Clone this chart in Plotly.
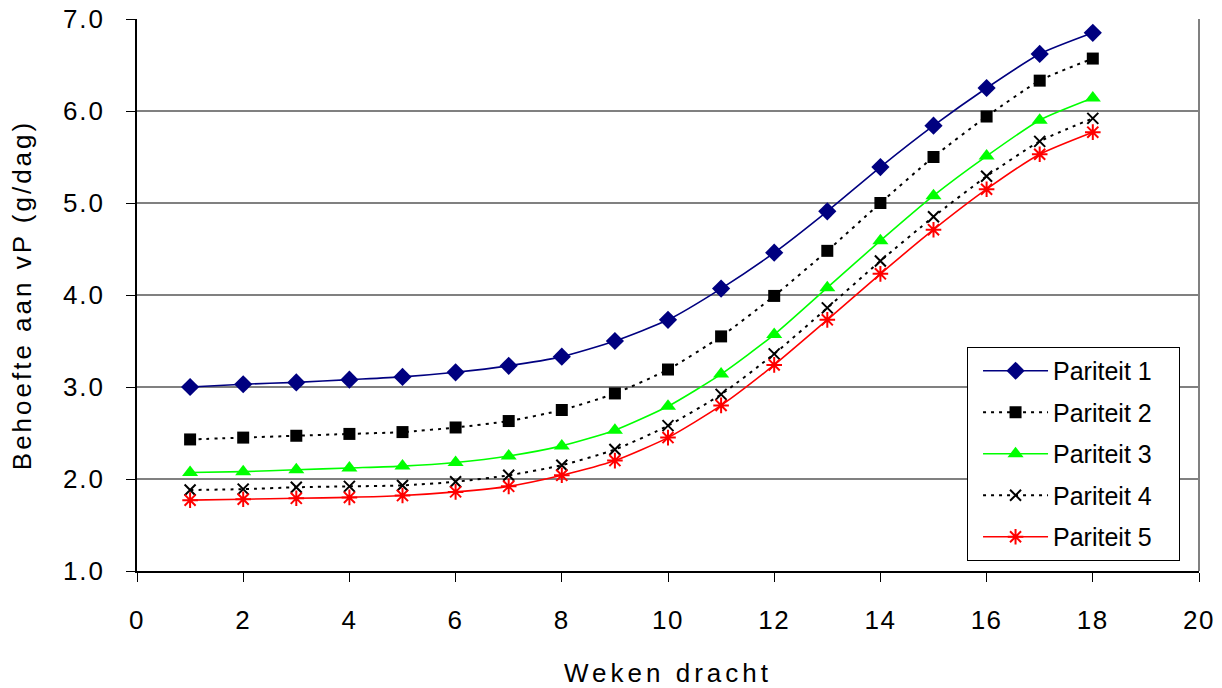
import plotly.graph_objects as go

weeks = list(range(1, 19))
p1 = [3.00, 3.03, 3.05, 3.08, 3.11, 3.16, 3.23, 3.33, 3.50, 3.73, 4.07, 4.46, 4.91, 5.39, 5.84, 6.25, 6.62, 6.85]
p2 = [2.43, 2.45, 2.47, 2.49, 2.51, 2.56, 2.63, 2.75, 2.93, 3.19, 3.55, 3.99, 4.48, 5.00, 5.50, 5.94, 6.33, 6.57]
p3 = [2.07, 2.08, 2.10, 2.12, 2.14, 2.18, 2.25, 2.36, 2.53, 2.79, 3.14, 3.57, 4.08, 4.59, 5.08, 5.51, 5.90, 6.14]
p4 = [1.88, 1.89, 1.91, 1.92, 1.93, 1.97, 2.04, 2.15, 2.32, 2.58, 2.92, 3.36, 3.86, 4.37, 4.85, 5.29, 5.67, 5.92]
p5 = [1.77, 1.78, 1.79, 1.80, 1.82, 1.86, 1.92, 2.04, 2.20, 2.45, 2.80, 3.24, 3.73, 4.23, 4.71, 5.15, 5.53, 5.77]
names = ["Pariteit 1", "Pariteit 2", "Pariteit 3", "Pariteit 4", "Pariteit 5"]
y_ticks = [1.0, 2.0, 3.0, 4.0, 5.0, 6.0, 7.0]
x_ticks = list(range(0, 21, 2))

styles = [
    dict(color="#000080", dash="solid", symbol="diamond", size=14, mline=0),
    dict(color="#000000", dash="3px,5px", symbol="square", size=12, mline=0),
    dict(color="#00FF00", dash="solid", symbol="triangle-up", size=14, mline=0),
    dict(color="#000000", dash="3px,5px", symbol="x-thin-open", size=11, mline=2),
    dict(color="#FF0000", dash="solid", symbol="asterisk-open", size=13, mline=2),
]

fig = go.Figure()
for i, (name, vals, st) in enumerate(zip(names, [p1, p2, p3, p4, p5], styles)):
    fig.add_trace(go.Scatter(
        x=weeks, y=vals, name=name, mode="lines+markers", legendgroup=f"g{i}",
        line=dict(color=st["color"], width=2 if st["dash"] != "solid" else 1.6,
                  dash=st["dash"], shape="spline", smoothing=0.6),
        marker=dict(symbol=st["symbol"], size=st["size"], color=st["color"],
                    line=dict(color=st["color"], width=st["mline"])),
    ))

font = "Liberation Sans, Arial, sans-serif"
fig.update_layout(
    width=1222, height=688, autosize=False,
    margin=dict(l=137, r=23, t=19, b=117, autoexpand=False),
    paper_bgcolor="white", plot_bgcolor="white",
    font=dict(family=font, size=26, color="black"),
    showlegend=True,
    legend=dict(x=0.791, y=0.4058, xanchor="left", yanchor="top",
                bordercolor="black", borderwidth=1, bgcolor="white",
                font=dict(size=25), tracegroupgap=6, itemwidth=65),
    xaxis=dict(range=[0, 20], tickvals=x_ticks, ticks="outside", ticklen=9,
               tickcolor="black", showline=True, linecolor="black", linewidth=1.5,
               showgrid=False, zeroline=False, mirror=False, automargin=False,
               ticklabelstandoff=16,
               title=dict(text="Weken dracht", standoff=30, font=dict(size=26))),
    yaxis=dict(range=[1, 7], tickvals=y_ticks, tickformat=".1f", ticks="outside",
               ticklen=9, tickcolor="black", showline=True, linecolor="black",
               linewidth=1.5, showgrid=True, gridcolor="#808080", gridwidth=1.5,
               zeroline=False, automargin=False, ticklabelstandoff=16,
               title=dict(text="Behoefte aan vP (g/dag)", standoff=30, font=dict(size=26))),
)
fig.add_shape(type="line", xref="paper", yref="paper", x0=1, x1=1, y0=0, y1=1,
              line=dict(color="#808080", width=2))

post = """
var gd = document.getElementById('{plot_id}');
function sp(sel, v){ gd.querySelectorAll(sel).forEach(function(t){ t.style.letterSpacing = v; }); }
sp('.xtick text', '1.5px'); sp('.ytick text', '2px');
sp('.g-xtitle text', '4px'); sp('.g-ytitle text', '3px');
var bg = gd.querySelector('.legend rect.bg');
if (bg) {
  var x0 = parseFloat(bg.getAttribute('x') || 0);
  bg.setAttribute('x', x0 - 10);
  bg.setAttribute('width', 212);
}
"""
fig.write_html("out.html", post_script=post)
